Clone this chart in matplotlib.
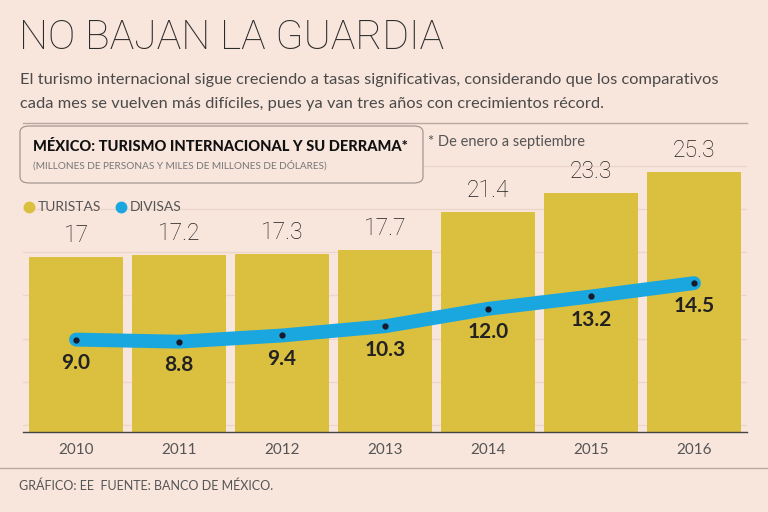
import matplotlib
matplotlib.use('Agg')
import matplotlib.pyplot as plt
from matplotlib.patches import FancyBboxPatch
from matplotlib.lines import Line2D
import numpy as np

plt.rcParams['font.family'] = ['Lato', 'DejaVu Sans']

years = ['2010', '2011', '2012', '2013', '2014', '2015', '2016']
turistas = [17, 17.2, 17.3, 17.7, 21.4, 23.3, 25.3]
turistas_labels = ['17', '17.2', '17.3', '17.7', '21.4', '23.3', '25.3']
divisas = [9.0, 8.8, 9.4, 10.3, 12.0, 13.2, 14.5]

BG = '#f8e5dc'
YELLOW = '#dbbf3f'
BLUE = '#1aa7e0'
W, H = 768, 512
LIGHT = ['Roboto', 'DejaVu Sans']


def px(x, y):
    # pixel position (from top-left) -> figure fraction
    return x / W, 1 - y / H


fig = plt.figure(figsize=(7.68, 5.12), dpi=100, facecolor=BG)
ax = fig.add_axes([23 / W, 80 / H, 724 / W, 308 / H])
ax.set_facecolor(BG)

x = np.arange(len(years))
# faint horizontal guide lines
for g in np.arange(0.7, 27, 4.2):
    ax.axhline(g, color='#ecd6cb', lw=1, zorder=0)

ax.bar(x, turistas, width=0.92, color=YELLOW, zorder=2)
for xi, v, lab in zip(x, turistas, turistas_labels):
    ax.text(xi, v + 1.0, lab, ha='center', va='bottom', fontsize=16.5,
            color='#1e1e1e', weight='light', family=LIGHT)

ax.plot(x, divisas, color=BLUE, lw=10, solid_capstyle='round',
        solid_joinstyle='round', zorder=3)
ax.plot(x, divisas, 'o', color='#1a1a2a', ms=3.5, zorder=4)
for xi, v in zip(x, divisas):
    ax.text(xi, v - 1.3, f'{v:.1f}', ha='center', va='top', fontsize=15,
            color='#222222', weight='bold', zorder=5)

ax.set_xlim(-0.515, 6.515)
ax.set_ylim(0, 30)
ax.set_xticks(x)
ax.set_xticklabels(years, fontsize=11, color='#555555')
ax.tick_params(axis='x', length=0, pad=8)
ax.set_yticks([])
for s in ['top', 'right', 'left']:
    ax.spines[s].set_visible(False)
ax.spines['bottom'].set_color('#444444')
ax.spines['bottom'].set_linewidth(1)

# header texts
fig.text(*px(19, 38), 'NO BAJAN LA GUARDIA', fontsize=29.5, weight='light',
         family=LIGHT, color='#2b2b2b', va='center', ha='left')
fig.text(*px(20, 80), 'El turismo internacional sigue creciendo a tasas significativas, '
         'considerando que los comparativos', fontsize=11.8, color='#4a4a4a',
         va='center', ha='left')
fig.text(*px(20, 104), 'cada mes se vuelven más difíciles, pues ya van tres años con '
         'crecimientos récord.', fontsize=11.8, color='#4a4a4a', va='center', ha='left')

# top separator line
fig.add_artist(Line2D([23 / W, 747 / W], [1 - 123 / H] * 2, color='#b8a8a0', lw=1))

# rounded box with chart title
box = FancyBboxPatch((20 / W, 1 - 183 / H), 403 / W, 57 / H,
                     boxstyle='round,pad=0,rounding_size=0.012',
                     transform=fig.transFigure, facecolor=BG,
                     edgecolor='#9a8f8a', lw=0.8, zorder=5)
fig.add_artist(box)
fig.text(*px(33, 147), 'MÉXICO: TURISMO INTERNACIONAL Y SU DERRAMA*', fontsize=10.5,
         weight='black', color='#111111', va='center', ha='left', zorder=6)
fig.text(*px(33, 165), '(MILLONES DE PERSONAS Y MILES DE MILLONES DE DÓLARES)',
         fontsize=7.2, color='#777777', va='center', ha='left', zorder=6)
fig.text(*px(428, 142), '* De enero a septiembre', fontsize=10.5, color='#555555',
         va='center', ha='left')

# legend
fig.add_artist(Line2D([29 / W], [1 - 207 / H], marker='o', ms=7.5, color=YELLOW,
                      transform=fig.transFigure))
fig.text(*px(38, 207), 'TURISTAS', fontsize=10, color='#555555', va='center', ha='left')
fig.add_artist(Line2D([121 / W], [1 - 207 / H], marker='o', ms=7.5, color=BLUE,
                      transform=fig.transFigure))
fig.text(*px(130, 207), 'DIVISAS', fontsize=10, color='#555555', va='center', ha='left')

# footer
fig.add_artist(Line2D([0, 1], [1 - 468 / H] * 2, color='#b8aaa3', lw=1))
fig.text(*px(19, 486), 'GRÁFICO: EE  FUENTE: BANCO DE MÉXICO.', fontsize=9,
         color='#555555', va='center', ha='left')

fig.savefig('out.png', dpi=100, facecolor=BG)
